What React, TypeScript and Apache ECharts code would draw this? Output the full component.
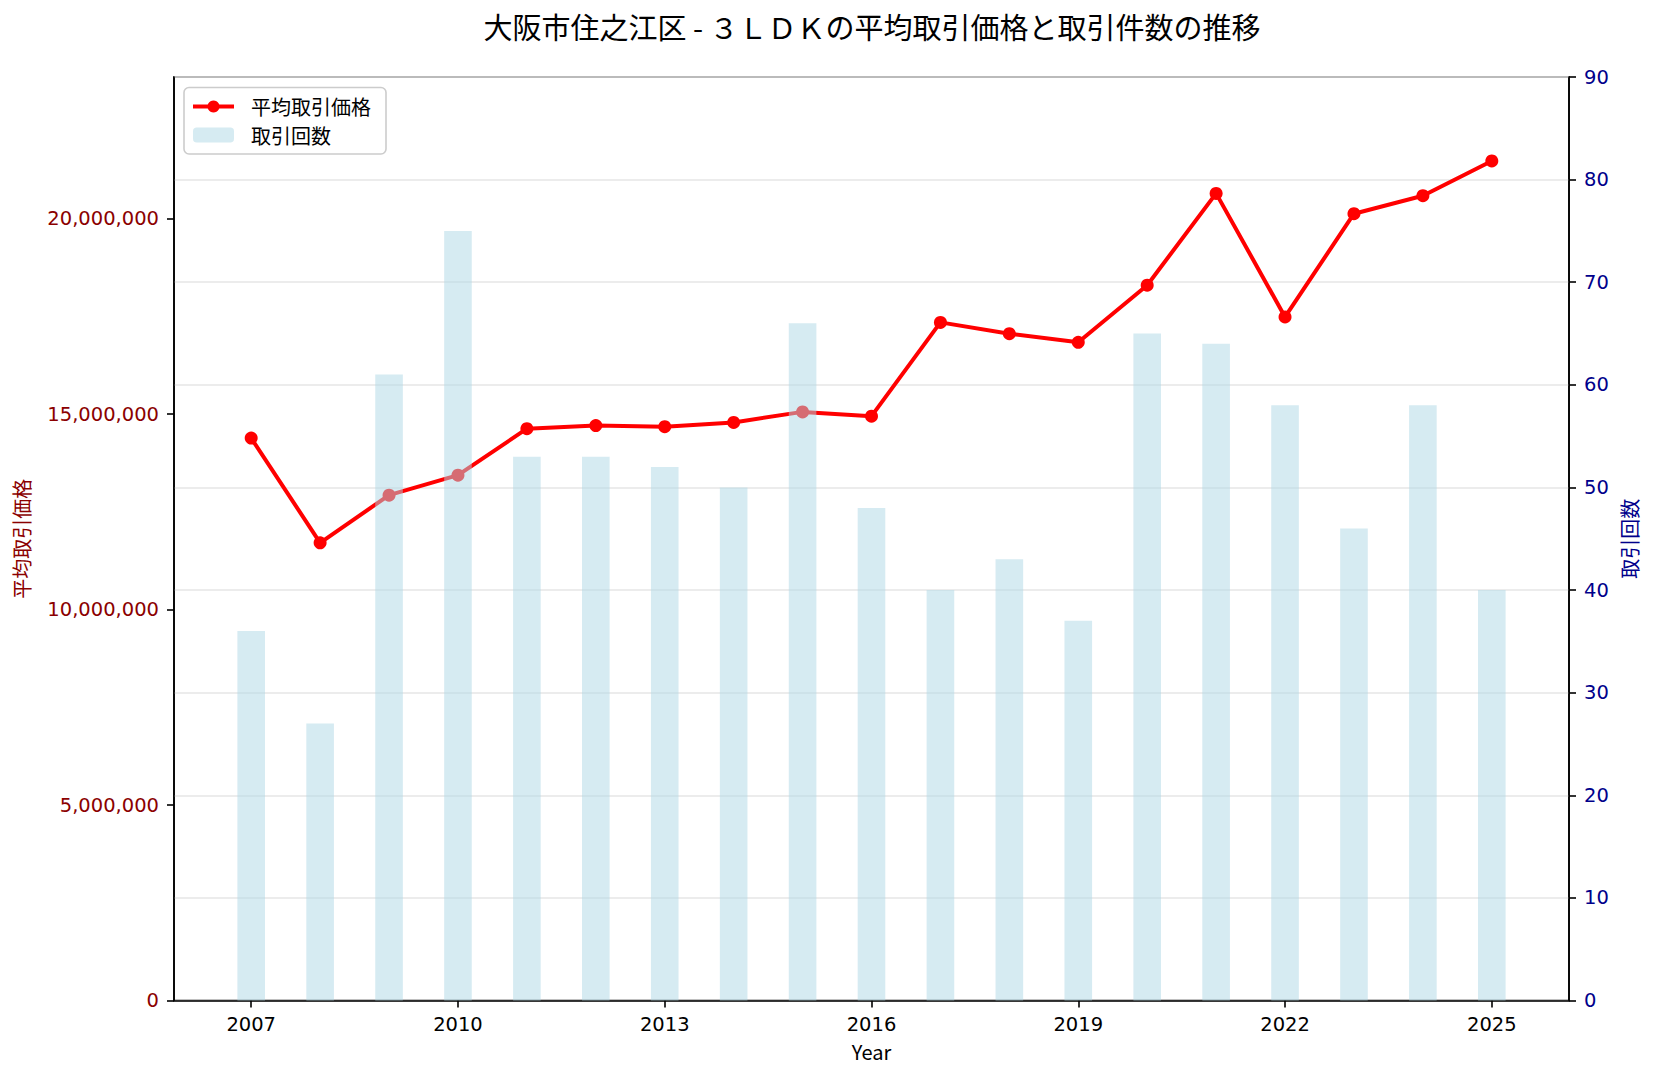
import React, { useEffect, useRef } from "react";
import * as echarts from "echarts";

const FONT = '"Noto Sans CJK JP", "Noto Sans", sans-serif';
const NUM_FONT = '"DejaVu Sans", "Noto Sans", sans-serif';

const titleText = "大阪市住之江区 - ３ＬＤＫの平均取引価格と取引件数の推移";
const years = [2007, 2008, 2009, 2010, 2011, 2012, 2013, 2014, 2015, 2016, 2017, 2018, 2019, 2020, 2021, 2022, 2023, 2024, 2025];
const avgPrice = [
  14390000, 11710000, 12930000, 13440000, 14630000, 14710000, 14680000, 14790000, 15060000, 14950000,
  17350000, 17060000, 16840000, 18300000, 20650000, 17490000, 20130000, 20590000, 21480000,
];
const counts = [36, 27, 61, 75, 53, 53, 52, 50, 66, 48, 40, 43, 37, 65, 64, 58, 46, 58, 40];
const xTickYears = [2007, 2010, 2013, 2016, 2019, 2022, 2025];
const leftTicks = [0, 5000000, 10000000, 15000000, 20000000];
const priceName = "平均取引価格";
const countName = "取引回数";
const xName = "Year";

export default function App() {
  const ref = useRef<HTMLDivElement>(null);
  useEffect(() => {
    if (!ref.current) return;
    const chart = echarts.init(ref.current, undefined, { renderer: "svg" });
    const priceMax = Math.max(...avgPrice) * 1.1;
    const span = years[years.length - 1] - years[0] + 0.4;
    const xMin = years[0] - 0.2 - span * 0.05;
    const xMax = years[years.length - 1] + 0.2 + span * 0.05;
    const tickLine = { color: "#000", width: 1.6 };
    chart.setOption({
      animation: false,
      backgroundColor: "#fff",
      textStyle: { fontFamily: FONT },
      graphic: [
        {
          type: "text",
          x: 872,
          y: 26,
          style: {
            text: titleText,
            fontSize: 29,
            fontFamily: FONT,
            fill: "#000",
            align: "center",
            verticalAlign: "middle",
          },
        },
      ],
      grid: {
        left: 174,
        right: 84,
        top: 77,
        bottom: 79.5,
        show: true,
        borderColor: "#000",
        borderWidth: 1.6,
        backgroundColor: "transparent",
        containLabel: false,
        outerBoundsMode: "none",
      },
      legend: {
        orient: "vertical",
        left: 184,
        top: 87.5,
        padding: [9, 15, 9, 7],
        itemGap: 8.5,
        itemWidth: 41,
        itemHeight: 15,
        borderColor: "#cccccc",
        borderWidth: 1.6,
        borderRadius: 5,
        backgroundColor: "rgba(255,255,255,0.8)",
        textStyle: { fontSize: 20, fontFamily: FONT, color: "#000", padding: [0, 0, 0, 12] },
        data: [
          { name: priceName, lineStyle: { width: 4, color: "#ff0000" } },
          { name: countName },
        ],
      },
      xAxis: {
        type: "value",
        min: xMin,
        max: xMax,
        name: xName,
        nameLocation: "middle",
        nameGap: 41,
        nameTextStyle: { fontSize: 20, color: "#000", fontFamily: FONT },
        axisLine: { show: true, lineStyle: tickLine },
        axisTick: { show: true, customValues: xTickYears, length: 7, lineStyle: tickLine },
        axisLabel: {
          customValues: xTickYears,
          margin: 14,
          fontSize: 19.5,
          color: "#000",
          fontFamily: NUM_FONT,
          formatter: (v: number) => String(Math.round(v)),
        },
        splitLine: { show: false },
      },
      yAxis: [
        {
          type: "value",
          min: 0,
          max: priceMax,
          position: "left",
          name: priceName,
          nameLocation: "middle",
          nameGap: 143,
          nameTextStyle: { fontSize: 20, color: "#8b0000", fontFamily: FONT },
          axisLine: { show: true, lineStyle: tickLine },
          axisTick: { show: true, customValues: leftTicks, length: 7, lineStyle: tickLine },
          axisLabel: {
            customValues: leftTicks,
            margin: 15,
            fontSize: 19.5,
            color: "#8b0000",
            fontFamily: NUM_FONT,
            formatter: (v: number) => Math.round(v).toLocaleString("en-US"),
          },
          splitLine: { show: false },
        },
        {
          type: "value",
          min: 0,
          max: 90,
          interval: 10,
          position: "right",
          name: countName,
          nameLocation: "middle",
          nameGap: 42,
          nameTextStyle: { fontSize: 20, color: "#00008b", fontFamily: FONT },
          axisLine: { show: true, lineStyle: tickLine },
          axisTick: { show: true, length: 7, lineStyle: tickLine },
          axisLabel: { margin: 15, fontSize: 19.5, color: "#00008b", fontFamily: NUM_FONT },
          splitLine: { show: true, lineStyle: { color: "#e6e6e6", width: 1.6 } },
        },
      ],
      series: [
        {
          name: priceName,
          type: "line",
          yAxisIndex: 0,
          data: years.map((y, i) => [y, avgPrice[i]]),
          symbol: "circle",
          symbolSize: 13,
          lineStyle: { color: "#ff0000", width: 4 },
          itemStyle: { color: "#ff0000" },
          z: 2,
        },
        {
          name: countName,
          type: "bar",
          yAxisIndex: 1,
          data: years.map((y, i) => [y, counts[i]]),
          barWidth: 27.6,
          itemStyle: { color: "rgba(173,216,230,0.5)" },
          z: 3,
        },
      ],
    });
    return () => chart.dispose();
  }, []);
  return (
    <div
      ref={ref}
      style={{ position: "fixed", left: 0, top: 0, width: 1653, height: 1080, background: "#fff" }}
    />
  );
}
